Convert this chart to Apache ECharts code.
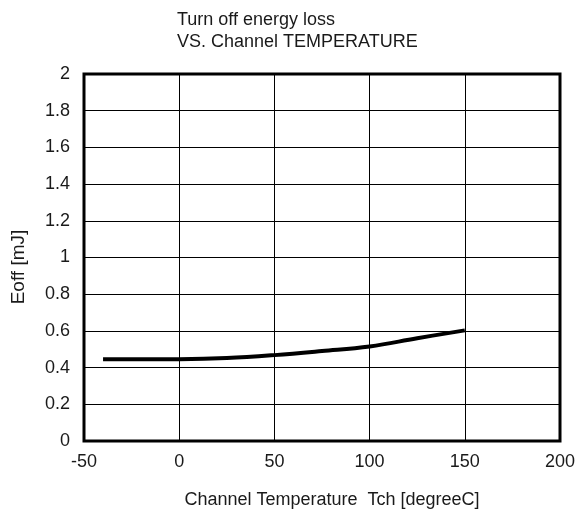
<!DOCTYPE html>
<html><head><meta charset="utf-8">
<script src="https://cdn.jsdelivr.net/npm/echarts@6/dist/echarts.min.js"></script>
<style>html,body{margin:0;padding:0;background:#fff}#c{width:585px;height:516px}</style>
</head><body><div id="c"></div>
<script>
const titleLines = ['Turn off energy loss', 'VS. Channel TEMPERATURE'];
const xName = 'Channel Temperature  Tch [degreeC]';
const yName = 'Eoff [mJ]';
const temps = [-40, 0, 25, 50, 75, 100, 125, 150];
const eoff = [0.445, 0.446, 0.452, 0.468, 0.49, 0.515, 0.56, 0.603];

const chart = echarts.init(document.getElementById('c'));
const font = 'Liberation Sans, Arial, sans-serif';
const txt = '#1a1a1a';
chart.setOption({
  animation: false,
  title: {
    text: titleLines.join('\n'), left: 172, top: 4,
    textStyle: { fontFamily: font, fontSize: 18, fontWeight: 'normal', color: txt, lineHeight: 22 }
  },
  grid: { left: 84, right: 25, top: 74, bottom: 75, show: true, borderColor: '#000', borderWidth: 3, backgroundColor: 'transparent' },
  xAxis: {
    type: 'value', min: -50, max: 200, interval: 50,
    name: xName, nameLocation: 'middle', nameGap: 50,
    nameTextStyle: { fontFamily: font, fontSize: 18, color: txt, padding: [0, 0, 0, 20] },
    axisLine: { show: false }, axisTick: { show: false },
    axisLabel: { fontFamily: font, fontSize: 18, color: txt, margin: 12 },
    splitLine: { lineStyle: { color: '#000', width: 1 } }
  },
  yAxis: {
    type: 'value', min: 0, max: 2, interval: 0.2,
    name: yName, nameLocation: 'middle', nameGap: 56, nameRotate: 90,
    nameTextStyle: { fontFamily: font, fontSize: 19, color: txt, padding: [0, 19, 0, 0] },
    axisLine: { show: false }, axisTick: { show: false },
    axisLabel: { fontFamily: font, fontSize: 18, color: txt, margin: 14 },
    splitLine: { lineStyle: { color: '#000', width: 1 } }
  },
  series: [{
    type: 'line', smooth: 0.4, symbol: 'none',
    data: temps.map((t, i) => [t, eoff[i]]),
    lineStyle: { color: '#000', width: 4 }
  }]
});
</script></body></html>
